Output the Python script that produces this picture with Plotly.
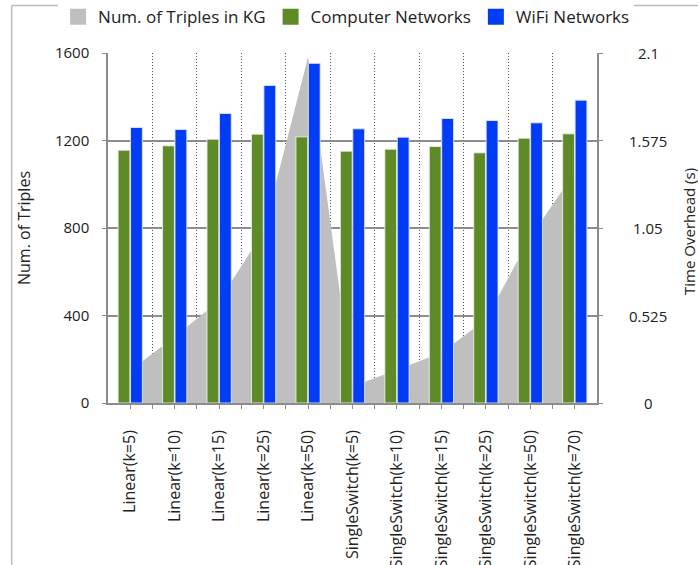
import plotly.graph_objects as go

categories = ["Linear(k=5)", "Linear(k=10)", "Linear(k=15)", "Linear(k=25)", "Linear(k=50)",
              "SingleSwitch(k=5)", "SingleSwitch(k=10)", "SingleSwitch(k=15)",
              "SingleSwitch(k=25)", "SingleSwitch(k=50)", "SingleSwitch(k=70)"]
triples_kg = [149, 303, 468, 784, 1582, 75, 152, 230, 382, 758, 1055]
computer_networks = [1.517, 1.543, 1.583, 1.613, 1.597, 1.511, 1.523, 1.539, 1.501, 1.589, 1.615]
wifi_networks = [1.653, 1.641, 1.737, 1.905, 2.038, 1.645, 1.595, 1.707, 1.695, 1.681, 1.817]
left_ticks = [0, 400, 800, 1200, 1600]
right_ticks = [0, 0.525, 1.05, 1.575, 2.1]
right_tick_text = ["0", "0.525", "1.05", "1.575", "2.1"]

series_names = ["Num. of Triples in KG", "Computer Networks", "WiFi Networks"]
series_colors = ["#BFBFBF", "#5E8A28", "#033CF5"]

xpos = list(range(len(categories)))
boundaries = [i + 0.5 for i in range(len(categories) - 1)]

FONT = "Open Sans"
fig = go.Figure()
fig.add_trace(go.Scatter(
    x=xpos, y=triples_kg, name=series_names[0], mode="lines",
    line=dict(width=0, color=series_colors[0]), fill="tozeroy", fillcolor=series_colors[0],
    yaxis="y", showlegend=False))
fig.add_trace(go.Bar(
    x=xpos, y=computer_networks, name=series_names[1], yaxis="y2", showlegend=False,
    marker=dict(color=series_colors[1], line=dict(color="rgba(235,240,230,0.9)", width=1))))
fig.add_trace(go.Bar(
    x=xpos, y=wifi_networks, name=series_names[2], yaxis="y2", showlegend=False,
    marker=dict(color=series_colors[2], line=dict(color="rgba(225,230,250,0.9)", width=1))))

# legend entries as square swatches
for n, c in zip(series_names, series_colors):
    fig.add_trace(go.Scatter(x=[None], y=[None], name=n, mode="markers",
                             marker=dict(symbol="square", size=16, color=c), yaxis="y"))

for v, t in zip(right_ticks, right_tick_text):
    fig.add_annotation(x=1.105, xref="paper", y=v, yref="y2", text=t, showarrow=False,
                       xanchor="center", yanchor="middle",
                       font=dict(family=FONT, size=15, color="#222"))

fig.add_annotation(x=1.187, xref="paper", y=0.49, yref="paper", text="Time Overhead (s)",
                   textangle=-90, showarrow=False, xanchor="center", yanchor="middle",
                   font=dict(family=FONT, size=15, color="#222"))

# outer frame (left and top edges)
fig.add_shape(type="line", xref="paper", yref="paper", x0=-0.197, x1=-0.197, y0=1.136, y1=-0.5,
              line=dict(color="#BDBDBD", width=1.5))
fig.add_shape(type="line", xref="paper", yref="paper", x0=-0.197, x1=1.25, y0=1.136, y1=1.136,
              line=dict(color="#BDBDBD", width=1.5))

fig.update_layout(
    width=698, height=565,
    margin=dict(l=108, r=101, t=53, b=162, autoexpand=False),
    paper_bgcolor="white", plot_bgcolor="white",
    barmode="group", bargap=0.44, bargroupgap=0.05,
    font=dict(family=FONT, size=15, color="#222"),
    legend=dict(orientation="h", x=-0.102, xanchor="left", y=1.102, yanchor="middle",
                font=dict(family=FONT, size=17, color="#222"), traceorder="normal",
                itemwidth=30),
    showlegend=True,
    xaxis=dict(
        tickmode="array", tickvals=xpos, ticktext=categories, tickangle=-90,
        range=[-0.5, len(categories) - 0.5], showgrid=False, automargin=False,
        ticks="outside", ticklen=4, tickcolor="#8C8C8C", ticklabelstandoff=15,
        showline=True, linecolor="#8C8C8C", linewidth=1.5,
        tickfont=dict(family=FONT, size=16, color="#222"),
        minor=dict(tickmode="array", tickvals=boundaries, ticks="outside", ticklen=4,
                   tickcolor="#8C8C8C", showgrid=True, gridcolor="#555555",
                   griddash="1px,2px", gridwidth=1),
        zeroline=False),
    yaxis=dict(
        range=[0, 1600], tickmode="array", tickvals=left_ticks, automargin=False,
        showgrid=True, gridcolor="#8C8C8C", gridwidth=1.5,
        showline=True, linecolor="#8C8C8C", linewidth=1.5,
        ticks="outside", ticklen=4, tickcolor="#8C8C8C", ticklabelstandoff=10,
        tickfont=dict(family=FONT, size=15, color="#222"),
        title=dict(text="Num. of Triples", standoff=20,
                   font=dict(family=FONT, size=16, color="#222")),
        zeroline=False),
    yaxis2=dict(
        range=[0, 2.1], overlaying="y", side="right", tickmode="array", automargin=False,
        tickvals=right_ticks, showticklabels=False, showgrid=False,
        showline=True, linecolor="#8C8C8C", linewidth=1.5,
        ticks="outside", ticklen=4, tickcolor="#8C8C8C", zeroline=False),
)

fig.write_html("out.html", config={"displayModeBar": False},
               post_script="document.body.style.margin='0px';")
